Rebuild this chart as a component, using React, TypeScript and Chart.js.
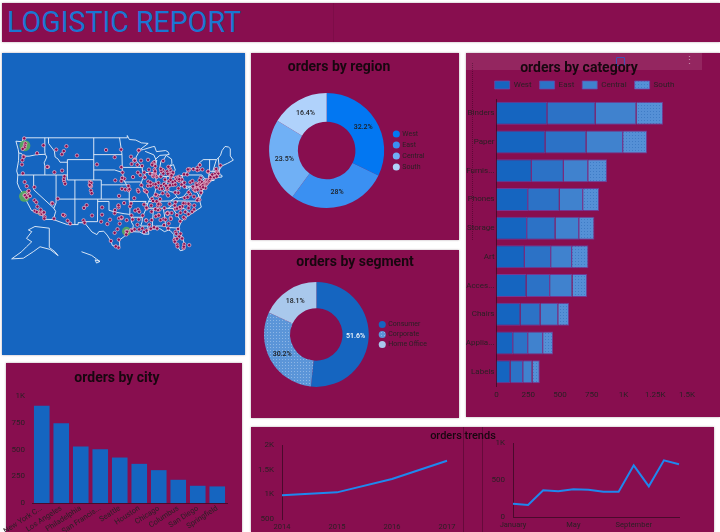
import React, { useEffect, useRef } from "react";
import { Chart, registerables } from "chart.js";

Chart.register(...registerables);

const regionLabels = ["West", "East", "Central", "South"];
const regionValues = [32.2, 28, 23.5, 16.4];
const segmentLabels = ["Consumer", "Corporate", "Home Office"];
const segmentValues = [51.6, 30.2, 18.1];
const categoryLabels = ["Binders", "Paper", "Furnis...", "Phones", "Storage", "Art", "Acces...", "Chairs", "Applia...", "Labels"];
const categoryWest = [400, 385, 278, 249, 241, 223, 236, 189, 131, 110];
const categoryEast = [380, 323, 252, 249, 223, 207, 186, 157, 118, 100];
const categoryCentral = [322, 289, 192, 184, 187, 165, 176, 140, 118, 73];
const categorySouth = [210, 189, 149, 126, 120, 129, 116, 86, 79, 58];
const cityLabels = ["New York C...", "Los Angeles", "Philadelphia", "San Francis...", "Seattle", "Houston", "Chicago", "Columbus", "San Diego", "Springfield"];
const cityValues = [910, 745, 528, 503, 425, 366, 307, 217, 161, 155];
const yearLabels = ["2014", "2015", "2016", "2017"];
const yearValues = [980, 1040, 1310, 1680];
const monthLabels = ["January", "February", "March", "April", "May", "June", "July", "August", "September", "October", "November", "December"];
const monthValues = [180, 162, 360, 347, 374, 369, 342, 342, 698, 414, 766, 712];

type LL = number[];
const usOutline: LL[] = [[-124.7,48.4],[-123,48.3],[-122.8,49],[-95.15,49],[-95.15,49.4],[-94.6,48.7],[-92.9,48.6],[-91.4,48.1],[-89.6,48],[-92.1,46.7],[-90.8,46.9],[-88.4,47.4],[-87.9,47.45],[-87.4,46.5],[-85,46.7],[-84.4,46.5],[-84,46],[-84.7,45.9],[-86.5,45.8],[-87.6,45.1],[-88,44.5],[-87.3,44.9],[-87.7,43.5],[-87.8,42.3],[-87.5,41.7],[-86.9,41.7],[-86.3,42.5],[-86.5,43.6],[-86.2,44.7],[-85.5,45],[-84.8,45.8],[-83.4,45.1],[-83.3,44.3],[-83.9,43.7],[-82.9,44.05],[-82.4,43],[-83.1,42.2],[-83.4,41.7],[-82.7,41.5],[-81.5,41.6],[-80,42.2],[-78.9,42.9],[-79,43.3],[-76.8,43.3],[-76.2,43.6],[-76.3,44.2],[-75,45],[-71.5,45],[-71,45.3],[-70.4,45.8],[-70,46.7],[-69.2,47.45],[-68.3,47.35],[-67.8,47.05],[-67.8,45.7],[-67,44.9],[-68.5,44.3],[-70,43.8],[-70.7,43],[-70.8,42.5],[-71,42.2],[-70,41.9],[-70,41.6],[-71.2,41.5],[-72.9,41.25],[-74,40.7],[-72,41],[-74,40.55],[-74.1,39.7],[-74.9,38.95],[-75.5,39.5],[-75.1,38.5],[-75.9,37.15],[-76.3,38],[-76,36.9],[-75.5,35.25],[-76.5,34.7],[-77.9,33.9],[-79.2,33.2],[-80.9,32],[-81.4,30.7],[-81.3,29.8],[-80.5,28.3],[-80,26.8],[-80.3,25.3],[-81.1,25.15],[-81.8,26.2],[-82.7,27.8],[-82.8,29],[-83.7,29.9],[-84.2,30.05],[-85.3,29.7],[-86.5,30.4],[-88,30.3],[-89.4,30.3],[-89.6,30.15],[-89.4,29.1],[-90.8,29.1],[-91.8,29.6],[-93.8,29.7],[-94.7,29.4],[-95.9,28.6],[-97.2,27.7],[-97.15,25.95],[-99.1,26.4],[-99.5,27.5],[-100.5,28.9],[-101.4,29.8],[-102.7,29.7],[-103.2,29],[-104.5,29.6],[-106.5,31.75],[-108.2,31.78],[-108.2,31.33],[-111.07,31.33],[-114.8,32.5],[-117.1,32.53],[-117.3,33.1],[-118.4,33.75],[-119.2,34.15],[-120.6,34.55],[-121.9,36.6],[-122.5,37.8],[-123.8,39.3],[-124.35,40.4],[-124.2,42],[-124.5,42.8],[-124,44.8],[-123.95,46.2],[-124.1,46.9],[-124.7,48.4]];
const stateBorders: LL[][] = [
  [[-124,46.25],[-123.2,46.15],[-122.8,45.65],[-121.2,45.65],[-119.3,45.93],[-116.92,46]],
  [[-117.03,49],[-117.04,46.4],[-116.92,46],[-116.5,45.5],[-117.2,44.4],[-117.03,43.8],[-117.03,42]],
  [[-124.2,42],[-111.05,42]],
  [[-120,42],[-120,39],[-114.63,35],[-114.15,34.3],[-114.7,32.7]],
  [[-114.63,35],[-114.05,36.2],[-114.05,42]],
  [[-114.05,37],[-94.62,37]],
  [[-109.05,41],[-109.05,31.33]],
  [[-111.05,45],[-111.05,41],[-102.05,41],[-102.05,37]],
  [[-116.05,49],[-116.05,48],[-114.5,46.6],[-114.3,45.5],[-113.5,45.1],[-113,44.5],[-111.05,44.5]],
  [[-111.05,45],[-104.05,45]],
  [[-104.05,49],[-104.05,41]],
  [[-104.05,45.94],[-96.55,45.94]],
  [[-104.05,43],[-98.5,43],[-96.45,42.5]],
  [[-102.05,40],[-95.3,40]],
  [[-103,37],[-103.05,32],[-106.6,32],[-106.5,31.75]],
  [[-103,36.5],[-100,36.5],[-100,34.55],[-98,34.1],[-96,33.8],[-94.48,33.64]],
  [[-94.62,36.5],[-94.43,35.4],[-94.48,33.64],[-94.05,33.55],[-94.05,31.9],[-93.55,31.2],[-93.8,29.7]],
  [[-94.05,33],[-91.15,33]],
  [[-97.2,49],[-96.6,46.3],[-96.55,45.94],[-96.45,42.5],[-96,41],[-95.8,40.58],[-95.3,40],[-94.62,39.1],[-94.62,36.5],[-90.15,36.5],[-90.37,36],[-89.7,36]],
  [[-96.45,43.5],[-91.2,43.5]],
  [[-95.8,40.58],[-91.7,40.6],[-91.4,40.4]],
  [[-92.1,46.7],[-92.3,46.1],[-92.8,45.5],[-92.8,44.8],[-91.2,43.5],[-91.1,42.7],[-90.2,41.8],[-91.1,41.2],[-91.4,40.4],[-91.5,40],[-90.7,39],[-90.2,38.7],[-89.5,37.3],[-89.15,37],[-89.5,36.5],[-89.7,36],[-90.1,35],[-91.15,33],[-91.2,32],[-91.6,31],[-89.75,31],[-89.6,30.2]],
  [[-90.64,42.5],[-87.8,42.5]],
  [[-90.4,46.55],[-88.1,45.9],[-87.6,45.1]],
  [[-87.53,41.7],[-87.53,39.3],[-88,37.8]],
  [[-89.15,37],[-88,37.8],[-86.5,38],[-85.5,38.4],[-85.4,38.7],[-84.8,39.1],[-83.7,38.6],[-82.6,38.4],[-82,39],[-80.9,39.7],[-80.52,40.6]],
  [[-84.8,39.1],[-84.8,41.7]],
  [[-87.2,41.76],[-84.8,41.7],[-83.45,41.73]],
  [[-80.52,42],[-80.52,39.72],[-75.8,39.72],[-75.05,38.45]],
  [[-79.76,42.27],[-79.76,42],[-75.35,42],[-74.7,41.35],[-75.1,40.9],[-75.1,40],[-75.5,39.7]],
  [[-74.7,41.35],[-73.9,41]],
  [[-73.65,41],[-73.5,42.05],[-73.3,42.75],[-73.3,45]],
  [[-73.3,42.75],[-71.3,42.7],[-70.8,42.85]],
  [[-73.5,42.05],[-71.4,42.02],[-71.2,41.5]],
  [[-71.8,42.02],[-71.85,41.32]],
  [[-72.45,42.72],[-71.5,45]],
  [[-71,45.3],[-70.7,43.1]],
  [[-79.48,39.72],[-79.48,39.2],[-78.4,39.6],[-77.7,39.3],[-77.1,38.8],[-76.3,38]],
  [[-82.6,38.4],[-82,37.5],[-83.68,36.6]],
  [[-82,37.5],[-81.7,37.2],[-80.3,37.5],[-79.3,38.4],[-78.35,39.4]],
  [[-75.9,36.55],[-81.65,36.6],[-83.68,36.6],[-88.05,36.5],[-89.5,36.5]],
  [[-81.65,36.6],[-84.3,35]],
  [[-90.1,35],[-83.1,35],[-81,35.15],[-79.7,34.8],[-78.55,33.85]],
  [[-83.1,35],[-81.4,32.8],[-80.9,32]],
  [[-85.6,35],[-85.15,32.8],[-85,31],[-84.85,30.7],[-82.2,30.55],[-81.45,30.7]],
  [[-87.6,31],[-85,31]],
  [[-87.6,31],[-87.5,30.3]],
  [[-88.2,35],[-88.45,31.9],[-88.4,30.3]],
];
const alaskaInset: LL[] = [[-121.4,30.1],[-119.65,30.9],[-115.85,30.5],[-115.85,25.94],[-114.35,24.9],[-113.5,23.94],[-115.67,25.46],[-118.3,26.1],[-120.1,24.9],[-122.74,23.3],[-125.84,23.14],[-123.2,24.9],[-121.9,26.1],[-120.5,27.3],[-121.9,28.1],[-120.5,29.7],[-121.4,30.1]];
const hawaiiInset: LL[] = [[-107.3,24.9],[-106.1,24.5],[-104.6,24],[-103.3,23.1],[-102.4,22.5],[-103.3,22.1],[-103.7,22.9],[-102.4,22.5]];

const bigCities: LL[] = [[-122.33,47.6],[-122.42,37.6],[-95.37,29.76],[-75.16,39.95],[-118.24,34.05]];
const bigCityRadii = [5.5, 5.5, 4.5, 3.5, 3];
const cityPoints: LL[] = [
[-122.5,48.9],[-122.2,48],[-122.33,47.6],[-122.44,47.25],[-122.9,47],[-122.67,45.63],[-117.4,47.66],[-119.1,46.2],[-122.67,45.5],[-123,44.9],[-123.1,44.05],[-122.87,42.33],
[-116.2,43.6],[-116.4,43.6],[-114.5,42.55],[-112.45,42.87],[-114,46.87],[-112,46.6],[-111.3,47.5],[-108.5,45.78],[-112.5,46],
[-111.9,40.76],[-111.66,40.23],[-111.97,41.2],[-111.83,41.73],[-113.58,37.1],[-103.2,44.08],
[-105.08,40.58],[-104.7,40.4],[-105,39.74],[-104.8,39.7],[-104.97,39.87],[-105.13,39.98],[-104.8,38.83],[-104.6,38.25],
[-122.39,40.58],[-121.5,38.58],[-121.29,38.75],[-122.42,37.77],[-122.27,37.8],[-121.9,37.33],[-119.77,36.75],[-121.3,37.96],[-121,37.64],[-119.3,36.33],[-119,35.37],[-119.7,34.42],[-119.18,34.2],[-118.24,34.05],[-118.19,33.77],[-118.14,34.15],[-117.87,33.75],[-117.37,33.95],[-117.29,34.1],[-117.09,33.12],[-117.16,32.72],[-118.14,34.7],[-121.84,39.73],
[-119.8,39.53],[-115.14,36.17],[-115,36.04],[-112.07,33.45],[-111.8,33.4],[-110.97,32.22],[-114.6,32.7],[-112.2,33.55],[-110.3,31.55],
[-106.65,35.08],[-105.94,35.69],[-104.5,33.4],[-106.76,32.3],
[-106.49,31.76],[-101.83,35.2],[-101.85,33.58],[-102.08,32],[-99.73,32.45],[-98.5,33.9],[-96.8,32.78],[-97.33,32.75],[-96.64,32.9],[-96.7,33],[-95.3,32.35],[-97.15,31.55],[-97.74,30.27],[-98.5,29.42],[-95.37,29.76],[-95.2,29.69],[-94.1,30.08],[-93.93,29.88],[-97.4,27.8],[-99.5,27.5],[-97.5,25.9],[-98.2,26.2],[-95.43,29.03],[-100.44,31.46],
[-97.5,35.47],[-95.99,36.15],[-97.44,35.2],[-98.39,34.6],[-97.48,35.65],[-97.33,37.69],[-95.68,39.05],[-94.82,38.88],[-96.57,39.18],
[-95.93,41.26],[-96.7,40.8],[-98.34,40.92],[-96.5,41.43],[-96.73,43.55],[-98.49,45.46],[-96.79,46.88],[-100.78,46.8],
[-93.27,44.98],[-93.09,44.95],[-92.46,44.02],[-92.1,46.78],[-94.16,45.56],[-94,44.16],[-93.3,44.84],[-93.16,44.8],
[-93.62,41.59],[-91.67,41.98],[-90.58,41.52],[-92.34,42.49],[-90.66,42.5],[-96.4,42.5],
[-94.58,39.1],[-94.85,39.77],[-92.33,38.95],[-93.3,37.2],[-90.2,38.63],[-90.48,38.78],[-92.17,38.58],[-90.32,38.79],
[-94.4,35.39],[-94.16,36.06],[-92.29,34.75],[-92,34.23],[-90.7,35.84],[-93.05,34.5],[-94.05,33.43],
[-93.75,32.5],[-92.1,32.5],[-92.45,31.3],[-93.2,30.23],[-92,30.22],[-91.15,30.45],[-90.07,29.95],[-90.7,29.6],
[-90.18,32.3],[-89.1,30.37],[-89.3,31.33],[-88.7,32.36],[-88.7,34.26],[-91.06,33.4],[-90,34.97],[-88.88,30.4],[-90.1,32.27],
[-86.8,33.52],[-86.58,34.73],[-86.3,32.37],[-88.04,30.7],[-87.57,33.2],[-85.5,32.6],[-87,34.6],[-87.68,34.8],[-85.4,31.2],[-86.8,33.4],
[-90.05,35.15],[-86.78,36.16],[-86.4,35.85],[-85.3,35.05],[-83.92,35.96],[-88.8,35.6],[-87.36,36.53],[-82.35,36.31],[-87.03,35.6],[-86.87,35.93],
[-85.76,38.25],[-84.5,38.04],[-86.44,37],[-87.11,37.77],[-88.6,37.08],[-84.3,37.75],[-87.59,37.84],[-88.3,36.6],[-84.63,39],
[-84.39,33.75],[-84.55,33.95],[-84.36,34.02],[-84.99,32.46],[-83.63,32.84],[-81.97,33.47],[-81.1,32.08],[-83.38,33.96],[-84.16,31.58],[-84.5,33.88],[-83.62,32.61],
[-87.22,30.42],[-84.28,30.44],[-81.66,30.33],[-82.33,29.65],[-82.14,29.19],[-81.02,29.21],[-81.38,28.54],[-82.46,27.95],[-82.64,27.77],[-81.95,28.04],[-80.6,28.08],[-81.87,26.64],[-81.8,26.14],[-80.05,26.71],[-80.2,25.77],[-80.14,26.12],[-82.53,27.34],[-78.7,26.5],
[-81.03,34],[-79.93,32.78],[-82.39,34.85],[-81.93,34.95],[-79.76,34.2],[-78.9,33.7],[-81.03,34.92],[-80.18,33],
[-80.84,35.23],[-78.64,35.78],[-78.9,35.99],[-79.79,36.07],[-80.24,36.1],[-78.88,35.05],[-77.94,34.23],[-82.55,35.6],[-77.37,35.61],[-80.58,35.41],[-81.19,35.26],[-77.43,34.75],
[-77.44,37.54],[-76.29,36.85],[-76,36.85],[-79.94,37.27],[-79.14,37.41],[-78.48,38.03],[-77.1,38.88],[-77.19,38.79],[-76.43,37],[-76.35,37.03],[-78.87,38.45],[-77.56,39.12],[-76.58,36.73],
[-81.63,38.35],[-82.44,38.42],[-79.96,39.63],[-80.72,40.07],[-81.56,39.27],
[-76.61,39.29],[-76.84,39.2],[-77.03,39],[-77.72,39.64],[-75.6,38.36],[-75.52,39.16],[-75.55,39.74],[-75.75,39.68],[-77.04,38.9],[-76.49,38.98],
[-75.16,39.95],[-80,40.44],[-80.08,42.13],[-76.88,40.27],[-75.47,40.6],[-75.93,40.34],[-76.3,40.04],[-76.73,39.96],[-75.66,41.41],[-78.4,40.52],[-75.37,40.63],[-75.97,40.96],[-77.86,40.79],
[-74.17,40.73],[-74.08,40.73],[-74.76,40.22],[-75.12,39.93],[-74.42,39.36],[-74.17,40.92],[-75.03,39.49],[-74.22,40.1],[-74,40.3],
[-74,40.71],[-73.9,40.93],[-78.88,42.89],[-77.61,43.16],[-76.15,43.05],[-73.76,42.65],[-75.23,43.1],[-76.51,43.46],[-75.9,43.97],[-76.57,42.93],[-73.69,42.73],[-79.24,42.1],[-78.69,43.17],[-79.06,43.1],[-73.58,40.66],[-73.4,40.87],
[-72.68,41.76],[-72.93,41.31],[-73.2,41.18],[-73.05,41.56],[-72.08,41.52],
[-71.06,42.36],[-71.8,42.26],[-72.59,42.1],[-71.32,42.63],[-71,42.25],[-71.41,41.82],[-71.42,41.7],[-71.46,42.99],[-71.54,43.2],[-70.4,43.9],
[-81.69,41.5],[-83,39.96],[-84.51,39.1],[-83.55,41.65],[-81.52,41.08],[-84.19,39.76],[-81.38,40.8],[-80.65,41.1],[-81.34,41.67],[-82.18,41.45],[-82.4,40.06],[-82.5,40.76],[-84.1,40.74],[-83.8,39.92],[-84.56,39.4],[-83.13,40.59],[-81.72,41.4],[-81.86,41.14],[-83.65,41.04],[-81.36,41.15],
[-86.16,39.77],[-85.14,41.08],[-86.25,41.68],[-87.35,41.59],[-87.57,37.97],[-86.88,40.42],[-86.53,39.17],[-85.39,40.19],[-85.92,39.2],[-84.89,39.83],[-87.41,39.47],
[-87.63,41.88],[-88.32,41.76],[-88.15,41.75],[-89.09,42.27],[-89.59,40.69],[-89.65,39.8],[-88.24,40.12],[-88.95,39.84],[-88.99,40.48],[-87.98,42.09],[-87.84,42.36],[-91.4,39.94],[-90.52,41.5],[-87.63,40.12],[-89.98,38.52],
[-83.05,42.33],[-83.74,42.28],[-84.55,42.73],[-85.67,42.96],[-85.59,42.29],[-83.69,43.01],[-83.95,43.42],[-86.11,42.79],[-84.4,42.25],[-84.25,43.62],[-83.18,42.32],[-83.03,42.49],[-86.25,43.23],[-85.62,44.76],[-83.4,41.92],
[-87.91,43.04],[-89.4,43.07],[-88.02,44.52],[-87.82,42.58],[-87.78,42.73],[-88.42,44.26],[-88.54,44.02],[-91.5,44.81],[-91.24,43.8],[-89.63,44.96],[-92.1,46.72],[-87.71,43.75],
];

const PANEL = "#880E4F";
const INK = "#1d1d1f";
const TICK = "#2a2024";
const AXIS = "#4a0a2c";
const FONT = "Roboto";

const merc = (lat: number) => Math.log(Math.tan(Math.PI / 4 + (lat * Math.PI) / 360));
const toXY = (p: LL) => ({ x: p[0], y: merc(p[1]) });
const mapLineDatasets = () =>
  [usOutline, ...stateBorders, alaskaInset, hawaiiInset].map((line) => ({
    data: line.map(toXY), order: 3, showLine: true, pointRadius: 0, borderColor: "rgba(235,242,250,0.9)", borderWidth: 1, borderDash: [1000, 0],
  }));

const dots = (color: string, dot: string) => {
  const c = document.createElement("canvas");
  c.width = 3;
  c.height = 3;
  const g = c.getContext("2d")!;
  g.fillStyle = color;
  g.fillRect(0, 0, 3, 3);
  g.fillStyle = dot;
  g.fillRect(1, 1, 1, 1);
  return g.createPattern(c, "repeat")!;
};

const sliceLabels = {
  id: "sliceLabels",
  afterDatasetsDraw(chart: any, _a: any, opts: any) {
    const { ctx } = chart;
    const meta = chart.getDatasetMeta(0);
    const values = chart.data.datasets[0].data;
    ctx.save();
    ctx.font = `500 7px ${FONT}`;
    ctx.textAlign = "center";
    ctx.textBaseline = "middle";
    meta.data.forEach((arc: any, i: number) => {
      const p = arc.tooltipPosition();
      ctx.fillStyle = opts.colors[i];
      ctx.fillText(`${values[i]}%`, p.x, p.y);
    });
    ctx.restore();
  },
};

const legendShift = {
  id: "legendShift",
  afterLayout(chart: any, _a: any, opts: any) {
    chart.legend.left += opts.dx;
    chart.legend.right += opts.dx;
  },
};

const fixW = (w: number) => (s: any) => { s.width = w; };
const fixH = (h: number) => (s: any) => { s.height = h; };
const tickFont = (size = 8) => ({ family: FONT, size });
const kFmt = (v: number) => (v >= 1000 ? `${v / 1000}K` : `${v}`);
const noTicks = { display: false, drawTicks: false };

function Canvas({ x, y, w, h, make }: { x: number; y: number; w: number; h: number; make: () => any }) {
  const ref = useRef<HTMLCanvasElement>(null);
  useEffect(() => {
    const chart = new Chart(ref.current!, make());
    return () => chart.destroy();
  }, []);
  return <canvas ref={ref} width={w} height={h} style={{ position: "absolute", left: x, top: y, width: w, height: h }} />;
}

const base = { responsive: false, animation: false, devicePixelRatio: 1 };
const noLegend = { legend: { display: false }, tooltip: { enabled: false } };

const donut = (labels: string[], values: number[], colors: any[], textColors: string[], padding: any, dx: number, rowPad: number) => ({
  type: "doughnut",
  data: { labels, datasets: [{ data: values, backgroundColor: colors, borderWidth: 0 }] },
  plugins: [sliceLabels, legendShift],
  options: {
    ...base,
    cutout: "50%",
    layout: { padding },
    plugins: {
      tooltip: { enabled: false },
      sliceLabels: { colors: textColors },
      legendShift: { dx },
      legend: {
        position: "right",
        labels: { usePointStyle: true, pointStyle: "circle", boxWidth: 5, boxHeight: 5, padding: rowPad, color: TICK, font: { family: FONT, size: 7 } },
      },
    },
  },
});

const regionChart = () => donut(regionLabels, regionValues, ["#0277F2", "#3A90F2", "#70B0F5", "#B0D2FB"], [INK, INK, INK, INK], { left: 17, top: 40, bottom: 32, right: 29 }, 4.5, 4);
const segmentChart = () => donut(segmentLabels, segmentValues, ["#1565C0", dots("#5B95D8", "#8DB6E6"), "#A9C8EC"], ["#ffffff", INK, INK], { left: 13, top: 32, bottom: 31, right: 30 }, 8, 3);

const categoryChart = () => ({
  type: "bar",
  data: {
    labels: categoryLabels,
    datasets: [
      { label: "West", data: categoryWest, backgroundColor: "#1565C0" },
      { label: "East", data: categoryEast, backgroundColor: "#2C72C6" },
      { label: "Central", data: categoryCentral, backgroundColor: "#4082CE" },
      { label: "South", data: categorySouth, backgroundColor: dots("#5590D6", "#3F7CC6") },
    ].map((d) => ({ ...d, borderColor: "rgba(110,70,170,0.75)", borderWidth: 1, categoryPercentage: 1, barPercentage: 0.8 })),
  },
  plugins: [legendShift],
  options: {
    ...base,
    indexAxis: "y",
    layout: { padding: { right: 33, top: 20 } },
    plugins: {
      tooltip: { enabled: false },
      legendShift: { dx: 8 },
      legend: { labels: { boxWidth: 15, boxHeight: 8, padding: 8, color: TICK, font: { family: FONT, size: 8 } } },
    },
    scales: {
      x: {
        stacked: true, min: 0, max: 1500, afterFit: fixH(31),
        grid: noTicks, border: { display: false },
        ticks: { stepSize: 250, color: TICK, font: tickFont(8), maxRotation: 0, padding: 4, callback: kFmt },
      },
      y: {
        stacked: true, afterFit: fixW(30.5),
        grid: noTicks, border: { color: AXIS, width: 1 },
        ticks: { color: TICK, font: tickFont(8), autoSkip: false, padding: 2 },
      },
    },
  },
});

const cityChart = () => ({
  type: "bar",
  data: { labels: cityLabels, datasets: [{ data: cityValues, backgroundColor: "#1565C0", categoryPercentage: 1, barPercentage: 0.8 }] },
  options: {
    ...base,
    layout: { padding: { right: 15, top: 33 } },
    plugins: noLegend,
    scales: {
      x: {
        afterFit: fixH(29), grid: noTicks, border: { color: AXIS, width: 1 },
        ticks: { color: TICK, font: tickFont(7.5), autoSkip: false, minRotation: 33, maxRotation: 33, padding: 1 },
      },
      y: {
        min: 0, max: 1000, afterFit: fixW(32), grid: noTicks, border: { display: false },
        ticks: { stepSize: 250, color: TICK, font: tickFont(8), padding: 7, callback: kFmt },
      },
    },
  },
});

const yearChart = () => ({
  type: "line",
  data: { labels: yearLabels, datasets: [{ data: yearValues, borderColor: "#1E88EE", borderWidth: 2, pointRadius: 0 }] },
  options: {
    ...base,
    layout: { padding: { right: 16, top: 18 } },
    plugins: noLegend,
    scales: {
      x: { offset: false, afterFit: fixH(13), grid: noTicks, border: { display: false }, ticks: { color: TICK, font: tickFont(7.5), maxRotation: 0, padding: 4 } },
      y: { min: 500, max: 2000, afterFit: fixW(31), grid: noTicks, border: { color: AXIS, width: 1 }, ticks: { stepSize: 500, color: TICK, font: tickFont(8), padding: 8, callback: kFmt } },
    },
  },
});

const monthChart = () => ({
  type: "line",
  data: { labels: monthLabels, datasets: [{ data: monthValues, borderColor: "#1E88EE", borderWidth: 2, pointRadius: 0 }] },
  options: {
    ...base,
    layout: { padding: { right: 35, top: 16 } },
    plugins: noLegend,
    scales: {
      x: {
        offset: false, afterFit: fixH(15), grid: noTicks, border: { color: AXIS, width: 1 },
        ticks: {
          color: TICK, font: tickFont(7.5), maxRotation: 0, autoSkip: false, padding: 4,
          callback: (_v: any, i: number) => (i % 4 === 0 ? monthLabels[i] : ""),
        },
      },
      y: { min: 0, max: 1000, afterFit: fixW(31), grid: noTicks, border: { color: AXIS, width: 1 }, ticks: { stepSize: 500, color: TICK, font: tickFont(8), padding: 8, callback: kFmt } },
    },
  },
});

const mapChart = () => ({
  type: "scatter",
  data: {
    datasets: [
      { data: cityPoints.map(toXY), order: 1, pointRadius: 1.7, backgroundColor: PANEL, borderColor: "rgba(240,190,210,0.7)", borderWidth: 1 },
      { data: bigCities.map(toXY), order: 2, pointRadius: bigCityRadii, backgroundColor: "rgba(90,170,90,0.9)", borderWidth: 0 },
      ...mapLineDatasets(),
    ],
  },
  options: {
    ...base,
    layout: { padding: 0, autoPadding: false },
    plugins: noLegend,
    scales: {
      x: { type: "linear", min: -128.4, max: -63.9, display: false },
      y: { type: "linear", min: -0.036, max: 1.382, display: false },
    },
  },
});

const box = (x: number, y: number, w: number, h: number, bg: string): React.CSSProperties => ({
  position: "absolute", left: x, top: y, width: w, height: h, background: bg, boxShadow: "0 0 2px rgba(90,60,80,0.45)",
});

function Title({ cx, cy, size = 14, weight = 700, children }: any) {
  return (
    <div style={{ position: "absolute", left: cx - 120, top: cy - 12, width: 240, height: 24, lineHeight: "24px", textAlign: "center", fontFamily: FONT, fontSize: size, fontWeight: weight, color: "#17070f" }}>
      {children}
    </div>
  );
}

export default function App() {
  return (
    <div style={{ position: "fixed", left: 0, top: 0, width: 720, height: 532, overflow: "hidden", background: "#fff" }}>
      <div style={box(2, 3, 718, 39, PANEL)} />
      <div style={{ position: "absolute", left: 333, top: 3, width: 1, height: 39, background: "rgba(0,0,0,0.08)" }} />
      <div style={{ position: "absolute", left: 7, top: 3, height: 39, lineHeight: "38px", fontFamily: FONT, fontSize: 28.6, color: "#1976D2" }}>LOGISTIC REPORT</div>

      <div style={box(2, 53, 243, 302, "#1565C0")} />
      <Canvas x={2} y={53} w={243} h={302} make={mapChart} />

      <div style={box(251, 53, 208, 187, PANEL)} />
      <Canvas x={251} y={53} w={208} h={187} make={regionChart} />
      <Title cx={339} cy={66}>orders by region</Title>

      <div style={box(251, 250, 208, 168, PANEL)} />
      <Canvas x={251} y={250} w={208} h={168} make={segmentChart} />
      <Title cx={355} cy={261}>orders by segment</Title>

      <div style={box(466, 53, 254, 364, PANEL)} />
      <Canvas x={466} y={53} w={254} h={364} make={categoryChart} />
      <div style={{ position: "absolute", left: 466, top: 53, width: 236, height: 17, background: "rgba(255,255,255,0.1)" }} />
      <div style={{ position: "absolute", left: 472, top: 63, width: 0, height: 177, borderLeft: "1px dotted rgba(0,0,0,0.3)" }} />
      <div style={{ position: "absolute", left: 616, top: 57, width: 7, height: 7, border: "1px solid #3F51B5", borderRadius: 1 }} />
      <div style={{ position: "absolute", left: 684, top: 54, fontFamily: FONT, fontSize: 11, color: "rgba(255,255,255,0.45)" }}>⋮</div>
      <Title cx={579} cy={67}>orders by category</Title>

      <div style={box(6, 363, 236, 169, PANEL)} />
      <Canvas x={0} y={363} w={242} h={169} make={cityChart} />
      <Title cx={117} cy={377}>orders by city</Title>

      <div style={box(251, 427, 463, 105, PANEL)} />
      <div style={{ position: "absolute", left: 463, top: 427, width: 1, height: 105, background: "rgba(0,0,0,0.25)" }} />
      <div style={{ position: "absolute", left: 482, top: 427, width: 1, height: 105, background: "rgba(0,0,0,0.25)" }} />
      <Canvas x={251} y={427} w={212} h={105} make={yearChart} />
      <Canvas x={482} y={427} w={232} h={105} make={monthChart} />
      <Title cx={463} cy={436} size={11} weight={500}>orders trends</Title>
    </div>
  );
}
